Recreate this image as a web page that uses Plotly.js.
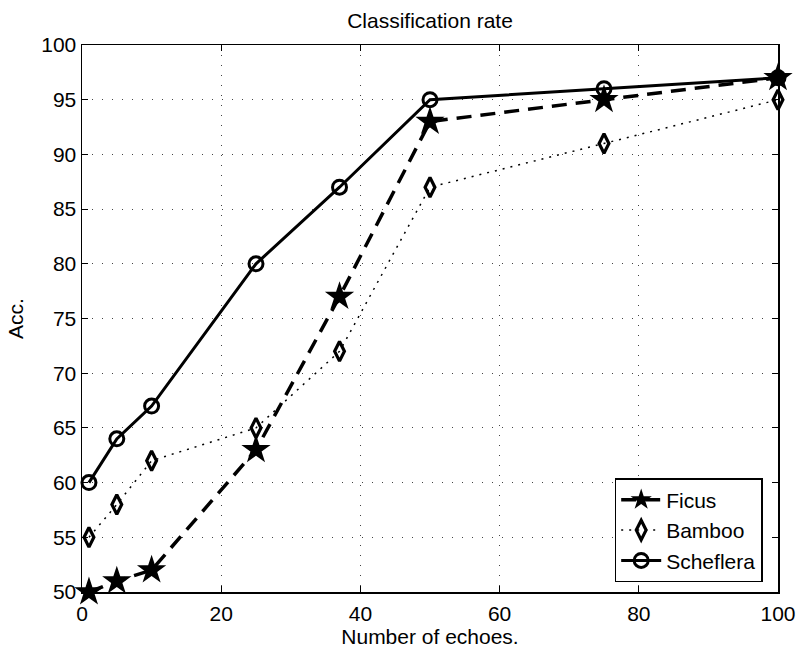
<!DOCTYPE html>
<html>
<head>
<meta charset="utf-8">
<script src="https://cdn.plot.ly/plotly-3.0.1.min.js"></script>
<style>html,body{margin:0;padding:0;background:#fff;}#chart{width:796px;height:649px;}</style>
</head>
<body>
<div id="chart"></div>
<script>
const echoes = [1, 5, 10, 25, 37, 50, 75, 100];
const ficus = [50, 51, 52, 63, 77, 93, 95, 97];
const bamboo = [55, 58, 62, 65, 72, 87, 91, 95];
const scheflera = [60, 64, 67, 80, 87, 95, 96, 97];
const xTicks = [0, 20, 40, 60, 80, 100];
const yTicks = [50, 55, 60, 65, 70, 75, 80, 85, 90, 95, 100];

const font = 'Liberation Sans, Arial, Helvetica, sans-serif';

const traces = [
  {x: echoes, y: scheflera, name: 'Scheflera', mode: 'lines+markers', cliponaxis: false,
   line: {color: '#000', width: 3, dash: 'solid'},
   marker: {symbol: 'circle-open', size: 14, color: '#000', line: {color: '#000', width: 3}}},
  {x: echoes, y: bamboo, name: 'Bamboo', mode: 'lines+markers', cliponaxis: false,
   line: {color: '#000', width: 1.5, dash: '2px,6px'},
   marker: {symbol: 'diamond-tall-open', size: 14, color: '#000', line: {color: '#000', width: 3.2}}},
  {x: echoes, y: ficus, name: 'Ficus', mode: 'lines+markers', cliponaxis: false,
   line: {color: '#000', width: 3.5, dash: '15px,9px'},
   marker: {symbol: 'star', size: 22, color: '#000', line: {color: '#000', width: 0}}}
];

const axisCommon = {
  showline: true, linecolor: '#000', linewidth: 1.5, mirror: 'ticks',
  ticks: 'inside', ticklen: 6, tickwidth: 1, tickcolor: '#000',
  showgrid: true, gridcolor: '#444', gridwidth: 1, griddash: '1px,9px',
  zeroline: false, tickfont: {family: font, size: 21, color: '#000'}
};

const layout = {
  width: 796, height: 649,
  margin: {l: 82, r: 18, t: 45, b: 57},
  paper_bgcolor: '#fff', plot_bgcolor: '#fff',
  font: {family: font, color: '#000'},
  title: {text: 'Classification rate', font: {family: font, size: 21, color: '#000'},
          x: 0.5, xanchor: 'center', xref: 'paper', y: 1 - 21/649, yanchor: 'middle', yref: 'container'},
  xaxis: Object.assign({}, axisCommon, {range: [0, 100], tickvals: xTicks, ticktext: xTicks.map(String),
    ticklabelstandoff: 2,
    title: {text: 'Number of echoes.', font: {family: font, size: 21, color: '#000'}, standoff: 1}}),
  yaxis: Object.assign({}, axisCommon, {range: [50, 100], tickvals: yTicks, ticktext: yTicks.map(String),
    title: {text: 'Acc.', font: {family: font, size: 21, color: '#000'}, standoff: 12}}),
  showlegend: true,
  legend: {x: 0.978, xanchor: 'right', y: 0.018, yanchor: 'bottom', traceorder: 'reversed',
           bgcolor: '#fff', bordercolor: '#000', borderwidth: 1.5,
           font: {family: font, size: 21, color: '#000'}, itemwidth: 40, tracegroupgap: 0}
};

Plotly.newPlot('chart', traces, layout, {displayModeBar: false, staticPlot: true});
</script>
</body>
</html>
